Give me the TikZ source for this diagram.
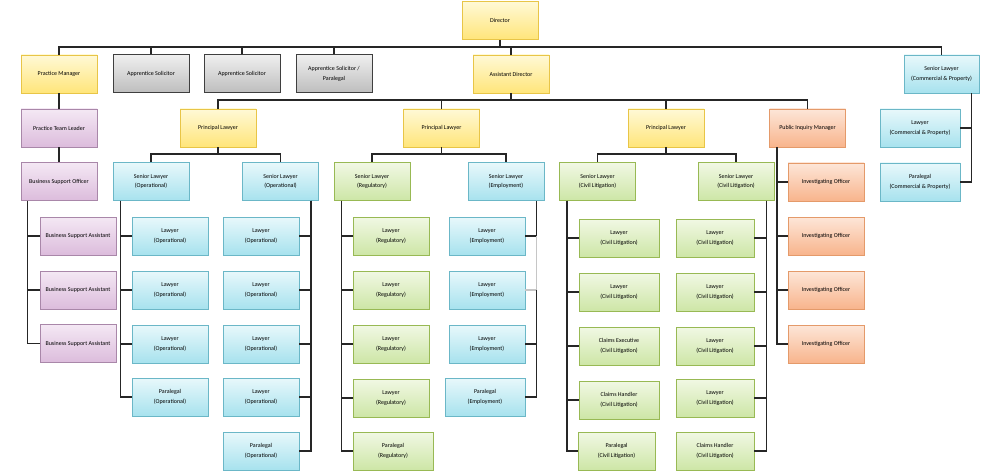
\documentclass[tikz,border=0pt]{standalone}
\usepackage{fontspec}
\setmainfont{Carlito}
\usepackage{tikz}

\definecolor{yeltop}{HTML}{FFF9D6}
\definecolor{yelbot}{HTML}{FFE57A}
\definecolor{yelline}{HTML}{E8C547}
\definecolor{grytop}{HTML}{EFEFEF}
\definecolor{grybot}{HTML}{BDBDBD}
\definecolor{gryline}{HTML}{3F3F3F}
\definecolor{purtop}{HTML}{F4E8F4}
\definecolor{purbot}{HTML}{DCBCDC}
\definecolor{purline}{HTML}{A987A9}
\definecolor{cyatop}{HTML}{E8F8FB}
\definecolor{cyabot}{HTML}{A7E2EE}
\definecolor{cyaline}{HTML}{6BB7C7}
\definecolor{gretop}{HTML}{F1F8E4}
\definecolor{grebot}{HTML}{CDE6A6}
\definecolor{greline}{HTML}{98B954}
\definecolor{oratop}{HTML}{FDE6D8}
\definecolor{orabot}{HTML}{F8B48C}
\definecolor{oraline}{HTML}{E49A6A}

\tikzset{
  box/.style={draw,line width=0.9pt,minimum width=76pt,minimum height=38pt,
    inner sep=1pt,align=center,font=\fontsize{6}{9.3}\selectfont},
  ybox/.style={box,draw=yelline,top color=yeltop,bottom color=yelbot},
  gbox/.style={box,draw=gryline,line width=1pt,top color=grytop,bottom color=grybot},
  pbox/.style={box,draw=purline,top color=purtop,bottom color=purbot},
  cbox/.style={box,draw=cyaline,top color=cyatop,bottom color=cyabot},
  ebox/.style={box,draw=greline,top color=gretop,bottom color=grebot},
  obox/.style={box,draw=oraline,top color=oratop,bottom color=orabot},
  conn/.style={line width=1.4pt,black!85}
}

\begin{document}
\begin{tikzpicture}[x=1pt,y=-1pt]
        \useasboundingbox (0,0) rectangle (1000,473);
        % 第一层
        \node[ybox] (dir) at (500,20.5) {Director};
        % 第二层
        \node[ybox] (pm) at (59,74) {Practice Manager};
        \node[gbox] (as1) at (151,74) {Apprentice Solicitor};
        \node[gbox] (as2) at (242,74) {Apprentice Solicitor};
        \node[gbox] (as3) at (334,74) {Apprentice Solicitor /\\Paralegal};
        \node[ybox] (ad) at (511,74) {Assistant Director};
        \node[cbox,minimum width=75pt] (scp) at (941.5,74) {Senior Lawyer\\(Commercial \& Property)};
        % 第三层
        \node[pbox] (ptl) at (59,128) {Practice Team Leader};
        \node[ybox] (pl1) at (218,128) {Principal Lawyer};
        \node[ybox] (pl2) at (441.5,128) {Principal Lawyer};
        \node[ybox] (pl3) at (666,128) {Principal Lawyer};
        \node[obox] (pim) at (807.5,128) {Public Inquiry Manager};
        \node[cbox,minimum width=80pt] (lcp) at (920,128) {Lawyer\\(Commercial \& Property)};
        \node[cbox,minimum width=80pt] (pcp) at (920,182) {Paralegal\\(Commercial \& Property)};
        % 第四层
        \node[pbox] (bso) at (59,181.5) {Business Support Officer};
        \node[cbox] (sop1) at (151,181.5) {Senior Lawyer\\(Operational)};
        \node[cbox] (sop2) at (280.5,181.5) {Senior Lawyer\\(Operational)};
        \node[ebox] (sr) at (372,181.5) {Senior Lawyer\\(Regulatory)};
        \node[cbox] (se) at (506,181.5) {Senior Lawyer\\(Employment)};
        \node[ebox] (scl1) at (597.5,181.5) {Senior Lawyer\\(Civil Litigation)};
        \node[ebox] (scl2) at (736,181.5) {Senior Lawyer\\(Civil Litigation)};
        % 下属各列
        \foreach \i/\y in {1/236,2/290,3/343.5}
          \node[pbox] (bsa\i) at (78,\y) {Business Support Assistant};
        \foreach \i/\y in {1/236,2/290,3/344}
          \node[cbox] (lop\i) at (170,\y) {Lawyer\\(Operational)};
        \node[cbox] (lop4) at (170,397) {Paralegal\\(Operational)};
        \foreach \i/\y in {1/236,2/290,3/344,4/397}
          \node[cbox] (lopb\i) at (261,\y) {Lawyer\\(Operational)};
        \node[cbox] (lopb5) at (261,451) {Paralegal\\(Operational)};
        \foreach \i/\y in {1/236,2/290,3/344,4/398}
          \node[ebox] (lr\i) at (391,\y) {Lawyer\\(Regulatory)};
        \node[ebox,minimum width=80pt] (lr5) at (393,451) {Paralegal\\(Regulatory)};
        \foreach \i/\y in {1/236,2/290,3/344}
          \node[cbox] (le\i) at (487,\y) {Lawyer\\(Employment)};
        \node[cbox,minimum width=80pt] (le4) at (485,397) {Paralegal\\(Employment)};
        \node[ebox,minimum width=80pt] (lca1) at (619,238) {Lawyer\\(Civil Litigation)};
        \node[ebox,minimum width=80pt] (lca2) at (619,292) {Lawyer\\(Civil Litigation)};
        \node[ebox,minimum width=80pt] (lca3) at (619,346) {Claims Executive\\(Civil Litigation)};
        \node[ebox,minimum width=80pt] (lca4) at (619,400) {Claims Handler\\(Civil Litigation)};
        \node[ebox,minimum width=77pt] (lca5) at (616.5,451) {Paralegal\\(Civil Litigation)};
        \foreach \i/\y in {1/238,2/292,3/346,4/398}
          \node[ebox,minimum width=78pt] (lcb\i) at (715,\y) {Lawyer\\(Civil Litigation)};
        \node[ebox,minimum width=78pt] (lcb5) at (715,451) {Claims Handler\\(Civil Litigation)};
        \foreach \i/\y in {1/182,2/236,3/290,4/344}
          \node[obox] (io\i) at (826,\y) {Investigating Officer};
        % 上层连线
        \coordinate (top) at (500,47);
        \draw[conn] (dir) -- (top);
        \draw[conn] (pm.north) |- (top) -| (scp.north);
        \foreach \n in {as1,as2,as3,ad}
          \draw[conn] (\n.north) -- (\n.north |- top);
        \coordinate (adb) at (511,100);
        \draw[conn] (ad) -- (adb);
        \draw[conn] (pl1.north) |- (adb) -| (pim.north);
        \foreach \n in {pl2,pl3}
          \draw[conn] (\n.north) -- (\n.north |- adb);
        \draw[conn] (pm) -- (ptl);
        \draw[conn] (ptl) -- (bso);
        \coordinate (pb) at (0,154);
        \foreach \p/\a/\b in {pl1/sop1/sop2,pl2/sr/se,pl3/scl1/scl2}{
          \draw[conn] (\p.south) -- (\p.south |- pb);
          \draw[conn] (\a.north) |- (\p.south |- pb) -| (\b.north);
        }
        % 竖向连线
        \coordinate (v1) at ([xshift=7pt]bso.south west);
        \foreach \i in {1,2,3} \draw[conn] (v1) |- (bsa\i.west);
        \coordinate (v2) at ([xshift=8pt]sop1.south west);
        \foreach \i in {1,...,4} \draw[conn] (v2) |- (lop\i.west);
        \coordinate (v3) at ([xshift=-8pt]sop2.south east);
        \foreach \i in {1,...,5} \draw[conn] (v3) |- (lopb\i.east);
        \coordinate (v4) at ([xshift=8pt]sr.south west);
        \foreach \i in {1,...,5} \draw[conn] (v4) |- (lr\i.west);
        \coordinate (v5) at ([xshift=-8pt]se.south east);
        \draw[conn] (v5) |- (le1.east);
        \draw[conn,gray!45] (v5 |- le1.east) |- (le2.east);
        \draw[conn] (v5 |- le2.east) |- (le4.east);
        \draw[conn] (v5 |- le3.east) -- (le3.east);
        \coordinate (v6) at ([xshift=8pt]scl1.south west);
        \foreach \i in {1,...,5} \draw[conn] (v6) |- (lca\i.west);
        \coordinate (v7) at ([xshift=-8pt]scl2.south east);
        \foreach \i in {1,...,5} \draw[conn] (v7) |- (lcb\i.east);
        \coordinate (v8) at ([xshift=8pt]pim.south west);
        \foreach \i in {1,...,4} \draw[conn] (v8) |- (io\i.west);
        \coordinate (v9) at ([xshift=-8pt]scp.south east);
        \draw[conn] (v9) |- (lcp.east);
        \draw[conn] (v9) |- (pcp.east);
\end{tikzpicture}
\end{document}
